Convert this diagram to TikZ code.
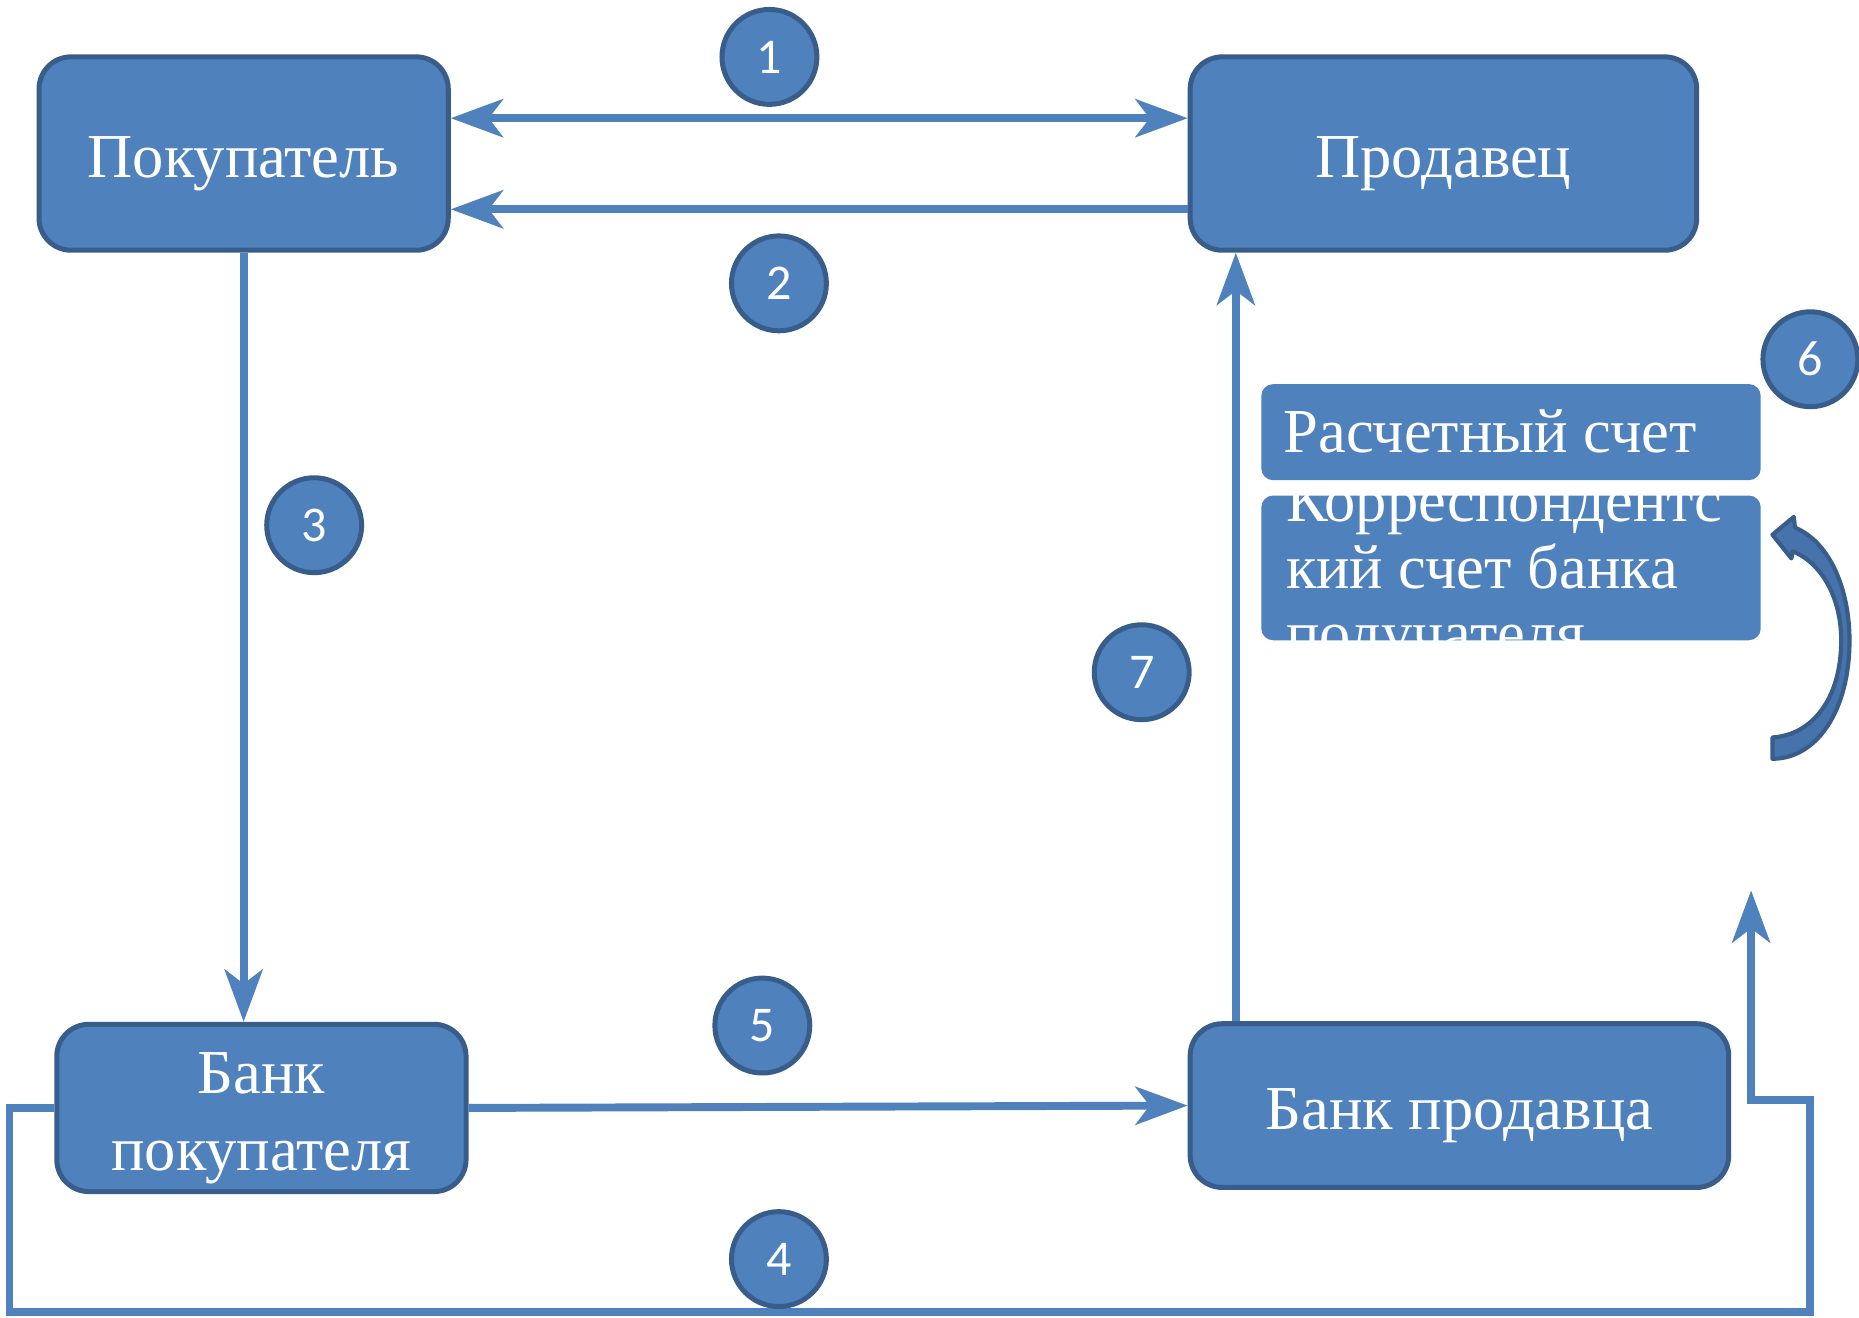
\documentclass[tikz,border=0pt]{standalone}
\usepackage{fontspec}
\setmainfont{Liberation Serif}
\newfontfamily\numfont{Carlito}
\usetikzlibrary{arrows.meta}
\definecolor{boxfill}{HTML}{4F81BD}
\definecolor{boxline}{HTML}{385D8A}
\definecolor{curvefill}{HTML}{4673AC}
\begin{document}
\begin{tikzpicture}[x=0.01cm,y=-0.01cm,
  box/.style={draw=boxline, fill=boxfill, line width=1.2pt, rounded corners=0.27cm,
    text=white, font=\fontsize{15}{18.5}\selectfont, text height=0.42cm, text depth=0.02cm, inner sep=0pt},
  boxtext/.style={text=white, font=\fontsize{15}{18.5}\selectfont, align=center, inner sep=0pt},
  numc/.style={circle, draw=boxline, fill=boxfill, line width=1.2pt, minimum size=0.8cm, inner sep=0pt,
    text=white, font=\numfont\fontsize{12}{14}\selectfont},
  conn/.style={draw=boxfill, line width=1.9pt},
  tipa/.tip={Stealth[length=0.44cm,width=0.32cm,inset=0.12cm]},
  arr/.style={conn, -tipa},
  acct/.style={fill=boxfill, rounded corners=0.1cm, inner sep=0pt},
  accttext/.style={anchor=base west, text=white, font=\fontsize{15}{18.5}\selectfont, inner sep=0pt}
]
\fill[white] (0,0) rectangle (1568,1111);
\useasboundingbox (0,0) rectangle (1568,1111);

% main boxes
\node[box, minimum width=3.45cm, minimum height=1.63cm] (pk) at (205.5,129.5) {Покупатель};
\node[box, minimum width=4.27cm, minimum height=1.63cm] (pr) at (1217.5,129.5) {Продавец};
\node[box, minimum width=3.45cm, minimum height=1.41cm] (bp) at (220.5,934.5) {};
\node[boxtext] (bpt) at (220.5,943) {Банк\\покупателя};
\node[box, minimum width=4.54cm, minimum height=1.38cm] (bs) at (1231,932.5) {Банк продавца};

% account boxes
\node[acct, minimum width=4.21cm, minimum height=0.81cm] (acc1) at (1274.5,364.5) {};
\node[acct, minimum width=4.21cm, minimum height=1.22cm] (acc2) at (1274.5,479) {};
\begin{scope}
  \clip[rounded corners=0.1cm] (acc1.south west) rectangle (acc1.north east);
  \node[accttext] (acc1t) at (1082,382) {Расчетный счет};
\end{scope}
\begin{scope}
  \clip[rounded corners=0.1cm] (acc2.south west) rectangle (acc2.north east);
  \node[accttext] (acc2a) at (1084,440) {Корреспондентс};
  \node[accttext] (acc2b) at (1084,496) {кий счет банка};
  \node[accttext] (acc2c) at (1084,552) {получателя};
\end{scope}

% connectors
\draw[conn, tipa-tipa] ([yshift=0.298cm]pk.east) -- ([yshift=0.298cm]pk.east -| pr.west);
\draw[arr] ([yshift=-0.47cm]pr.west) -- ([yshift=-0.47cm]pr.west -| pk.east);
\draw[arr] (pk.south) -- (pk.south |- bp.north);
\draw[arr] (bp.east) -- (bs.west);
\draw[arr] ([xshift=-1.885cm]bs.north) -- ([xshift=-1.885cm]bs.north |- pr.south);

\coordinate (c4a) at (8,1107);
\coordinate (c4b) at (1527,1107);
\coordinate (c4c) at (1527,928);
\coordinate (c4d) at (1477,751);
\draw[arr] (bp.west) -| (c4a) -- (c4b) -- (c4c) -| (c4d);

% curved arrow 6
\path[draw=boxline, fill=curvefill, line width=1pt, line join=round]
  (1495,451) -- (1513,436) -- (1514,445)
  .. controls (1545,458) and (1560,500) .. (1560,540)
  .. controls (1560,600) and (1532,640) .. (1495,640)
  -- (1495,622)
  .. controls (1528,620) and (1553,590) .. (1553,540)
  .. controls (1553,505) and (1537,475) .. (1512,465)
  -- (1511,471) -- cycle;

% number circles
\node[numc] (n1) at (649,48) {1};
\node[numc] (n2) at (657,239) {2};
\node[numc] (n3) at (265,443) {3};
\node[numc] (n7) at (963,567) {7};
\node[numc] (n5) at (643,865) {5};
\node[numc] (n4) at (657,1062) {4};
\node[numc] (n6) at (1527,303) {6};
\end{tikzpicture}
\end{document}
